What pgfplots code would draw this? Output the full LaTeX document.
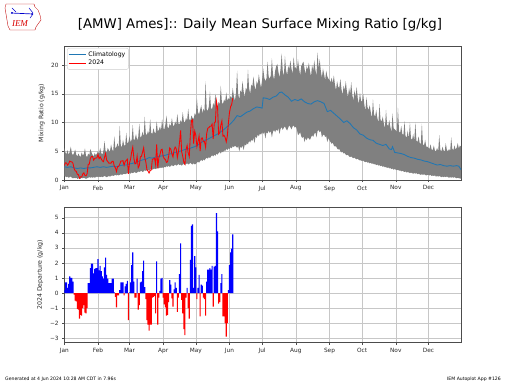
\documentclass[border=0pt]{standalone}
\usepackage{pgfplots}
\pgfplotsset{compat=1.18}
\usepackage{pgfplotstable}
\usepgfplotslibrary{fillbetween}
\usepackage{fontspec}
\setmainfont{DejaVu Sans}
\newfontfamily\logofont{Liberation Serif}
\definecolor{mplblue}{HTML}{1F77B4}
\definecolor{bandgray}{HTML}{808080}

\pgfplotstableread{
day lo hi
1 0.7 5.6
2 0.6 4.8
3 0.5 4.5
4 0.6 5.2
5 0.4 4.4
6 0.5 4.9
7 0.6 5.8
8 0.4 4.6
9 0.3 4.3
10 0.4 4.7
11 0.3 5.3
12 0.4 4.4
13 0.2 4.1
14 0.3 4.6
15 0.3 4.2
16 0.2 4.0
17 0.4 4.8
18 0.3 4.3
19 0.4 4.5
20 0.3 5.5
21 0.2 4.2
22 0.3 4.0
23 0.4 4.6
24 0.5 4.3
25 0.4 5.4
26 0.5 4.8
27 0.4 4.4
28 0.5 4.1
29 0.4 4.7
30 0.5 4.3
31 0.6 4.6
32 0.5 5.0
33 0.6 4.5
34 0.5 5.6
35 0.6 4.7
36 0.5 4.4
37 0.6 5.1
38 0.7 6.8
39 0.6 5.0
40 0.5 4.8
41 0.6 5.6
42 0.7 5.2
43 0.6 4.9
44 0.7 6.2
45 0.8 5.3
46 0.7 5.0
47 0.8 7.6
48 0.9 5.4
49 0.8 5.8
50 0.9 6.4
51 0.8 5.5
52 0.9 9.4
53 1.0 6.0
54 0.9 5.7
55 1.0 7.0
56 1.1 6.1
57 1.0 5.9
58 1.1 8.2
59 1.2 6.3
60 1.1 6.6
61 1.2 7.6
62 1.1 6.6
63 1.3 7.0
64 1.2 9.6
65 1.3 6.8
66 1.4 7.2
67 1.2 8.0
68 1.3 6.9
69 1.5 7.4
70 1.4 9.8
71 1.5 7.3
72 1.6 7.6
73 1.4 8.4
74 1.5 7.5
75 1.7 11.0
76 1.6 8.0
77 1.7 7.8
78 1.8 8.6
79 1.6 7.9
80 1.8 10.6
81 1.9 8.2
82 1.8 8.0
83 1.9 9.0
84 2.0 8.3
85 1.9 8.1
86 2.0 10.2
87 2.1 8.5
88 2.0 8.7
89 2.2 9.3
90 2.1 8.6
91 2.2 10.6
92 2.1 9.0
93 2.3 8.8
94 2.2 9.6
95 2.4 11.2
96 2.3 9.2
97 2.5 9.0
98 2.3 9.8
99 2.4 9.3
100 2.6 10.8
101 2.4 9.5
102 2.5 9.4
103 2.7 10.2
104 2.5 9.6
105 2.6 11.5
106 2.8 9.8
107 2.6 9.7
108 2.7 10.4
109 2.5 10.0
110 2.7 11.8
111 2.8 10.2
112 2.6 10.0
113 2.8 10.8
114 2.9 10.3
115 2.7 12.4
116 2.8 10.5
117 3.0 10.4
118 2.8 11.2
119 2.7 10.8
120 2.9 10.6
121 2.7 11.6
122 2.8 11.2
123 3.0 14.2
124 3.2 11.8
125 3.0 11.4
126 3.3 12.2
127 3.5 13.0
128 3.3 11.6
129 3.6 12.4
130 3.4 11.9
131 3.7 17.2
132 3.9 12.3
133 3.7 12.0
134 4.0 12.8
135 3.8 15.4
136 4.1 12.5
137 4.3 12.3
138 4.1 13.4
139 4.4 12.8
140 4.2 15.0
141 4.6 13.0
142 4.4 12.7
143 4.7 13.6
144 4.9 13.2
145 4.6 16.4
146 5.0 13.5
147 4.8 13.2
148 5.2 14.0
149 5.0 13.6
150 5.4 15.2
151 5.2 13.8
152 5.5 14.2
153 5.4 14.0
154 5.7 14.6
155 5.5 14.2
156 5.9 16.0
157 5.7 14.6
158 6.0 13.8
159 5.8 15.2
160 5.6 19.0
161 5.9 15.0
162 5.0 14.0
163 5.8 15.6
164 5.6 15.2
165 6.0 17.2
166 5.2 15.4
167 6.2 14.4
168 6.0 16.0
169 6.4 15.6
170 6.2 19.2
171 6.8 16.0
172 6.5 15.0
173 7.0 16.6
174 6.8 16.2
175 7.3 18.0
176 6.4 16.4
177 7.6 15.6
178 7.3 17.2
179 7.9 16.6
180 7.6 18.4
181 8.1 17.0
182 7.9 16.0
183 8.3 17.4
184 8.0 19.4
185 8.4 17.8
186 7.2 17.2
187 8.3 17.6
188 8.1 20.6
189 8.6 18.0
190 8.2 17.6
191 8.5 18.2
192 7.4 21.2
193 8.4 18.4
194 8.7 17.4
195 8.3 19.0
196 8.8 19.8
197 8.5 20.2
198 9.0 18.8
199 8.0 17.8
200 8.9 19.4
201 9.2 22.0
202 8.7 19.0
203 9.1 18.0
204 9.3 21.6
205 8.9 19.2
206 8.6 18.2
207 9.1 19.8
208 9.5 19.3
209 9.2 20.8
210 8.8 19.4
211 9.3 18.4
212 9.5 21.4
213 9.1 19.5
214 9.3 19.6
215 8.8 19.2
216 7.8 21.0
217 8.0 19.4
218 8.3 18.2
219 7.6 19.8
220 7.3 20.2
221 7.6 20.6
222 6.6 19.4
223 7.3 18.4
224 6.9 19.8
225 7.4 19.2
226 7.2 20.4
227 7.0 19.0
228 7.4 18.0
229 7.8 20.0
230 7.5 19.0
231 8.0 20.8
232 8.3 19.2
233 7.4 18.2
234 8.5 22.2
235 8.7 19.4
236 8.3 21.0
237 8.6 19.0
238 7.4 17.8
239 7.8 19.4
240 7.9 18.4
241 7.5 17.4
242 7.6 19.0
243 6.6 18.0
244 7.3 17.6
245 6.9 17.4
246 6.6 17.0
247 6.3 17.8
248 6.5 16.8
249 6.0 18.2
250 5.8 16.6
251 5.9 15.6
252 5.5 17.2
253 5.3 16.2
254 5.4 16.0
255 5.0 17.6
256 4.8 15.8
257 4.9 14.8
258 4.6 16.4
259 4.7 15.6
260 4.4 17.2
261 4.3 15.4
262 4.4 14.4
263 4.1 16.0
264 4.0 15.0
265 4.1 17.0
266 3.9 14.8
267 3.8 13.8
268 3.9 15.6
269 3.7 14.4
270 3.6 16.2
271 3.7 14.2
272 3.5 13.2
273 3.4 15.2
274 3.4 13.8
275 3.3 13.6
276 3.4 15.0
277 3.2 13.2
278 3.1 12.0
279 3.2 14.4
280 3.0 12.6
281 3.1 12.2
282 2.9 13.0
283 3.0 11.8
284 2.8 10.8
285 2.9 14.0
286 2.7 11.4
287 2.8 11.0
288 2.6 12.2
289 2.7 10.8
290 2.5 10.0
291 2.6 13.2
292 2.4 10.4
293 2.5 10.2
294 2.3 11.0
295 2.4 9.8
296 2.2 9.0
297 2.3 12.2
298 2.1 9.6
299 2.2 9.4
300 2.0 10.4
301 2.1 9.2
302 1.9 8.4
303 2.0 11.6
304 1.8 9.0
305 1.9 8.8
306 1.8 8.6
307 1.7 8.4
308 1.8 12.6
309 1.6 8.4
310 1.7 8.2
311 1.5 9.4
312 1.6 8.0
313 1.5 7.8
314 1.4 10.2
315 1.5 7.6
316 1.3 7.4
317 1.4 8.6
318 1.3 7.2
319 1.2 10.0
320 1.3 7.2
321 1.2 7.0
322 1.1 8.0
323 1.2 6.8
324 1.1 10.0
325 1.2 6.8
326 1.0 6.6
327 1.1 7.6
328 1.0 6.4
329 0.9 6.3
330 1.0 9.8
331 0.9 6.2
332 1.0 6.0
333 0.9 7.0
334 0.8 5.8
335 0.9 5.8
336 0.9 5.6
337 0.8 5.4
338 0.9 6.2
339 0.7 5.3
340 0.8 5.2
341 0.7 6.0
342 0.8 5.1
343 0.6 5.0
344 0.7 5.6
345 0.6 5.0
346 0.7 7.8
347 0.6 5.2
348 0.5 5.0
349 0.6 5.8
350 0.5 5.1
351 0.6 5.0
352 0.5 6.4
353 0.6 5.2
354 0.5 5.0
355 0.4 5.4
356 0.5 5.0
357 0.4 7.4
358 0.5 5.4
359 0.4 5.2
360 0.5 6.0
361 0.4 5.3
362 0.3 5.6
363 0.4 6.4
364 0.3 5.5
365 0.3 6.0
366 0.2 5.8
}\band

\pgfplotstableread{
day clim
1 2.3
4 2.2
7 2.3
10 2.1
13 2.0
16 2.1
19 2.0
22 2.1
25 2.1
28 2.2
31 2.3
34 2.2
37 2.3
40 2.2
43 2.3
46 2.4
49 2.3
52 2.5
55 2.6
58 2.6
61 2.8
64 2.9
67 3.1
70 3.3
73 3.5
76 3.6
79 3.9
82 3.8
85 4.0
88 4.1
91 4.2
94 4.3
97 4.5
100 4.6
103 4.8
106 4.9
109 5.1
112 5.3
115 5.4
118 5.6
121 5.8
124 6.1
127 6.5
130 6.9
133 7.1
136 7.4
139 7.7
142 8.0
145 8.4
148 8.8
151 9.3
154 9.8
157 10.4
160 11.2
163 11.0
166 11.4
169 11.8
172 12.0
175 12.4
178 12.7
181 12.6
183 12.5
184 14.3
187 14.2
190 14.0
193 14.4
196 14.6
199 15.2
201 15.3
204 14.8
207 14.4
210 13.7
213 14.0
216 13.8
219 14.1
222 13.6
225 13.3
228 13.2
231 13.6
234 13.8
237 13.6
240 13.3
243 11.9
246 12.1
249 11.6
252 11.1
255 10.6
258 10.0
261 10.3
264 9.8
267 9.1
270 8.7
273 8.0
276 7.8
279 7.3
282 7.0
285 6.9
288 6.4
291 6.2
294 6.0
297 6.2
300 5.4
302 5.3
303 5.8
305 4.8
308 4.7
311 4.6
314 4.4
317 4.1
320 3.9
323 3.8
326 3.6
329 3.5
332 3.3
335 3.2
338 3.0
341 2.8
344 2.6
347 2.7
350 2.5
353 2.4
356 2.5
359 2.4
362 2.5
364 2.4
366 1.8
}\clim

\pgfplotstableread{
day obs dep
1 2.50 0.2
2 2.98 0.7
3 2.96 0.7
4 2.59 0.35
5 2.81 0.6
6 3.29 1.1
7 3.17 1.0
8 3.15 1.0
9 2.88 0.75
10 2.01 -0.1
11 1.59 -0.5
12 1.51 -0.55
13 0.99 -1.05
14 0.92 -1.1
15 0.30 -1.7
16 0.56 -1.45
17 0.52 -1.5
18 1.04 -1.0
19 1.25 -0.8
20 0.76 -1.3
21 0.72 -1.35
22 1.08 -1.0
23 2.74 0.65
24 2.76 0.65
25 3.77 1.65
26 4.08 1.95
27 4.09 1.95
28 3.45 1.3
29 3.76 1.6
30 3.83 1.65
31 3.84 1.65
32 4.45 2.25
33 3.71 1.5
34 4.01 1.8
35 3.67 1.45
36 3.33 1.1
37 3.19 0.95
38 3.94 1.7
39 4.60 2.35
40 3.46 1.2
41 3.21 0.95
42 2.92 0.65
43 2.93 0.65
44 2.94 0.65
45 3.24 0.95
46 3.25 0.95
47 2.39 0.05
48 2.13 -0.25
49 1.47 -0.95
50 2.31 -0.15
51 2.35 -0.15
52 2.74 0.2
53 3.28 0.7
54 3.32 0.7
55 3.36 0.7
56 2.55 -0.15
57 3.19 0.45
58 3.38 0.6
59 3.62 0.8
60 1.06 -1.8
61 2.95 0.05
62 3.64 0.7
63 4.84 1.85
64 5.73 2.7
65 3.82 0.75
66 2.81 -0.3
67 2.86 -0.3
68 4.15 0.95
69 2.14 -1.1
70 2.49 -0.8
71 4.03 0.7
72 4.12 0.75
73 4.86 1.45
74 5.61 2.15
75 3.90 0.4
76 3.15 -0.4
77 1.81 -1.8
78 1.56 -2.1
79 1.21 -2.5
80 1.66 -2.1
81 1.72 -2.1
82 3.57 -0.3
83 3.67 -0.25
84 3.78 -0.2
85 2.68 -1.35
86 6.18 2.1
87 2.04 -2.1
88 3.89 -0.3
89 4.39 0.15
90 5.24 0.95
91 5.35 1.0
92 4.10 -0.3
93 3.71 -0.75
94 3.56 -0.95
95 3.07 -1.5
96 3.18 -1.45
97 4.09 -0.6
98 5.59 0.85
99 5.35 0.55
100 4.51 -0.35
101 4.01 -0.9
102 5.22 0.25
103 5.73 0.7
104 5.44 0.35
105 3.89 -1.25
106 4.90 -0.3
107 6.51 1.25
108 8.61 3.3
109 4.92 -0.45
110 4.08 -1.35
111 3.08 -2.4
112 2.74 -2.8
113 5.29 -0.3
114 6.00 0.35
115 4.71 -1.0
116 4.06 -1.7
117 8.02 2.2
118 10.33 4.45
119 10.48 4.55
120 6.34 0.35
121 8.49 2.45
122 7.80 1.7
123 5.82 -0.4
124 6.69 0.35
125 7.66 1.2
126 5.04 -1.55
127 7.26 0.55
128 7.33 0.5
129 6.65 -0.3
130 6.67 -0.4
131 5.69 -1.5
132 8.06 0.75
133 8.99 1.55
134 9.11 1.55
135 9.33 1.65
136 9.35 1.55
137 9.72 1.8
138 7.15 -0.9
139 9.92 1.75
140 10.09 1.8
141 13.72 5.3
142 12.64 4.1
143 7.96 -0.7
144 8.19 -0.6
145 9.56 0.65
146 10.29 1.25
147 7.61 -1.55
148 7.73 -1.55
149 7.41 -2.0
150 6.63 -2.9
151 7.65 -2.0
152 9.98 0.2
153 11.75 1.85
154 12.74 2.7
155 13.14 2.95
156 14.23 3.9
}\yr

\pgfplotsset{
  mycommon/.style={
    scale only axis, width=396.7pt,
    xmin=1, xmax=366,
    xtick={1,32,61,92,122,153,183,214,245,275,306,336},
    xticklabels={Jan,Feb,Mar,Apr,May,Jun,Jul,Aug,Sep,Oct,Nov,Dec},
    grid=major,
    major grid style={draw=black!22, line width=0.45pt},
    axis line style={black!70, line width=0.5pt},
    tick align=outside, tick pos=left,
    major tick length=2.2pt,
    tick style={black!70, line width=0.4pt},
    ticklabel style={font=\fontsize{5.8}{7}\selectfont, text=black!85},
    /pgf/number format/assume math mode=true,
    label style={font=\fontsize{6.2}{7}\selectfont, text=black!85},
  }
}

\begin{document}
\begin{tikzpicture}[x=1pt,y=1pt]

% logo
\draw[red!75!black, line width=0.35pt] (6,380) -- (34,380) -- (35,377) -- (38,374) -- (40,369) -- (41,364) -- (38,360) -- (36,357) -- (35,354) -- (10,354) -- (8,358) -- (7,364) -- (6,370) -- (5,376) -- cycle;
\draw[blue!80!black, line width=0.7pt] (11,371) -- (33,370);
\draw[blue!80!black, line width=0.5pt] (12,376) -- (16,372) (29,376) -- (33,371) (30,366) -- (33,370);
\fill[blue!80!black] (12,371) circle (1pt) (32,370) circle (1pt);
\node[text=red!85!black, font=\logofont\itshape\fontsize{9}{9}\selectfont, inner sep=0pt] at (20,360) {IEM};

% title
\node[font=\fontsize{13.3}{15}\selectfont, anchor=center, inner sep=0pt] at (260,359) {[AMW] Ames]:: Daily Mean Surface Mixing Ratio [g/kg]};

% footer
\node[font=\fontsize{4.6}{5}\selectfont, anchor=west, inner sep=0pt] at (5,5) {Generated at 4 Jun 2024 10:28 AM CDT in 7.96s};
\node[font=\fontsize{4.6}{5}\selectfont, anchor=east, inner sep=0pt] at (501,5) {IEM Autoplot App \#126};

\begin{axis}[mycommon,
  at={(64.3pt,204pt)}, anchor=south west, height=134pt,
  ymin=0, ymax=23.3, ytick={0,5,10,15,20},
  ylabel={Mixing Ratio (g/kg)},
  ylabel style={at={(axis description cs:-0.057,0.5)}, anchor=center},
  legend style={at={(axis description cs:0.007,0.985)}, anchor=north west,
    draw=black!20, rounded corners=2pt, fill=white,
    font=\fontsize{6.2}{7}\selectfont, inner sep=1.2pt, row sep=-1.5pt},
  legend cell align=left,
]
\addplot[name path=hi, draw=none, forget plot] table[x=day,y=hi]{\band};
\addplot[name path=lo, draw=none, forget plot] table[x=day,y=lo]{\band};
\addplot[fill=bandgray, draw=none, forget plot] fill between[of=hi and lo];
\addplot[mplblue, line width=0.85pt] table[x=day,y=clim]{\clim};
\addlegendentry{Climatology}
\addplot[red, line width=0.85pt] table[x=day,y=obs]{\yr};
\addlegendentry{2024}
\end{axis}

\begin{axis}[mycommon,
  at={(64.3pt,41.7pt)}, anchor=south west, height=135pt,
  ymin=-3.27, ymax=5.69, ytick={-3,-2,-1,0,1,2,3,4,5},
  yticklabels={−3,−2,−1,0,1,2,3,4,5},
  ylabel={2024 Departure (g/kg)},
  ylabel style={at={(axis description cs:-0.061,0.5)}, anchor=center},
]
\addplot[ybar, bar width=1.02, bar shift=0pt, fill=blue, draw=none,
  restrict y to domain=0:20] table[x=day,y=dep]{\yr};
\addplot[ybar, bar width=1.02, bar shift=0pt, fill=red, draw=none,
  restrict y to domain=-20:0] table[x=day,y=dep]{\yr};
\end{axis}

\path (0,0) rectangle (512,384);
\end{tikzpicture}
\end{document}
